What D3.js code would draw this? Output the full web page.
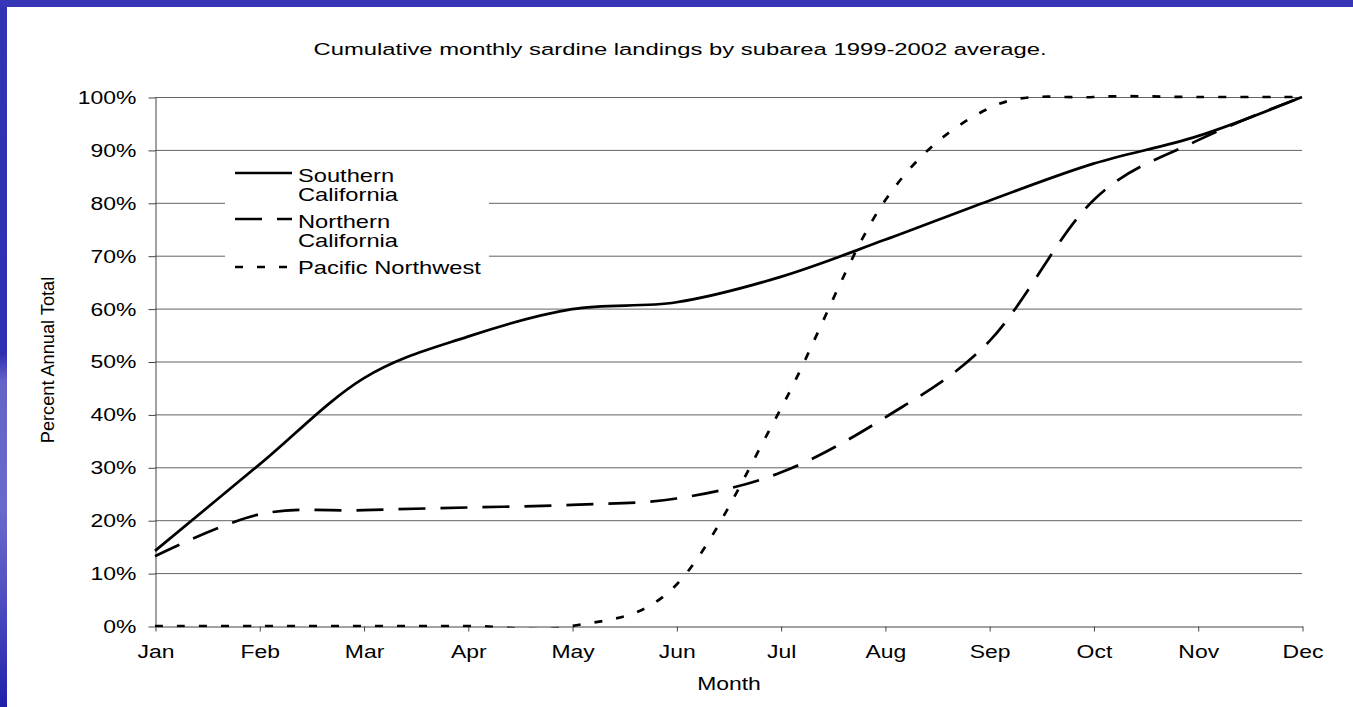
<!DOCTYPE html>
<html>
<head>
<meta charset="utf-8">
<script src="https://cdn.jsdelivr.net/npm/d3@7"></script>
<style>
  html, body { margin: 0; padding: 0; background: #fff; }
  svg { display: block; }
  text { font-family: "Liberation Sans", Arial, sans-serif; fill: #000; }
</style>
</head>
<body>
<svg id="chart" width="1353" height="707"></svg>
<script>
// Month categories
const months = ["Jan", "Feb", "Mar", "Apr", "May", "Jun", "Jul", "Aug", "Sep", "Oct", "Nov", "Dec"];

// Cumulative percent of annual landings, 1999-2002 average
const southernCalifornia = [14.2, 30.5, 46.8, 54.7, 59.9, 61.2, 66.0, 73.0, 80.4, 87.4, 92.6, 100];
const northernCalifornia = [13.2, 21.1, 21.9, 22.4, 22.9, 24.1, 29.0, 39.4, 53.8, 80.5, 91.8, 100];
const pacificNorthwest   = [0, 0, 0, 0, 0, 7.8, 41.0, 80.4, 97.9, 100, 100, 100];

const seriesNames = ["Southern California", "Northern California", "Pacific Northwest"];
const yTicks = [0, 10, 20, 30, 40, 50, 60, 70, 80, 90, 100];

const titleText = "Cumulative monthly sardine landings by subarea 1999-2002 average.";
const xTitle = "Month";
const yTitle = "Percent Annual Total";

const W = 1353, H = 707;
const SX = 1.24;          // horizontal text stretch of the slide
const FS = 18.5;          // base font size

const svg = d3.select("#chart");

// Slide frame: blue bands on top and left
const defs = svg.append("defs");
const grad = defs.append("linearGradient").attr("id", "leftBand")
  .attr("x1", 0).attr("y1", 0).attr("x2", 0).attr("y2", 1);
[[0, "#3232b4"], [0.5, "#2e2eb2"], [0.54, "#6464c8"], [0.72, "#6a6acc"], [0.86, "#4b4bbf"], [1, "#1f1fab"]]
  .forEach(([o, c]) => grad.append("stop").attr("offset", o).attr("stop-color", c));

svg.append("rect").attr("x", 0).attr("y", 0).attr("width", W).attr("height", H).attr("fill", "#fff");
svg.append("rect").attr("x", 0).attr("y", 0).attr("width", 7).attr("height", H).attr("fill", "url(#leftBand)");
svg.append("rect").attr("x", 0).attr("y", 0).attr("width", W).attr("height", 7).attr("fill", "#3636b6");

// Scales
const x = d3.scalePoint().domain(months).range([155, 1302]);
const y = d3.scaleLinear().domain([0, 100]).range([626, 97]);

// Plot clip, so the smoothed curves never dip under the 0% line
defs.append("clipPath").attr("id", "plotClip").append("rect")
  .attr("x", 0).attr("y", 0).attr("width", W).attr("height", 627.6);

// Gridlines
svg.append("g").selectAll("line").data(yTicks.filter(d => d > 0)).join("line")
  .attr("x1", x.range()[0]).attr("x2", x.range()[1])
  .attr("y1", d => y(d) + 0.5).attr("y2", d => y(d) + 0.5)
  .attr("stroke", "#636363").attr("stroke-width", 1);

// Axes
const yAxis = svg.append("g").attr("transform", "translate(155.5,0.5)")
  .call(d3.axisLeft(y).tickValues(yTicks).tickFormat(d => d + "%").tickSize(7).tickSizeOuter(0).tickPadding(12));
const xAxis = svg.append("g").attr("transform", "translate(0.5,626.5)")
  .call(d3.axisBottom(x).tickSize(5).tickSizeOuter(0).tickPadding(13));

[yAxis, xAxis].forEach(a => {
  a.select(".domain").attr("stroke", "#444").attr("stroke-width", 1);
  a.selectAll(".tick line").attr("stroke", "#444").attr("stroke-width", 1);
  a.selectAll(".tick text").attr("font-size", FS).attr("font-family", "Liberation Sans, Arial, sans-serif").attr("fill", "#000");
});
// stretch tick labels horizontally, keeping their anchors in place
yAxis.selectAll(".tick text").attr("x", -19 / SX).attr("transform", `scale(${SX},1)`);
xAxis.selectAll(".tick text").attr("transform", `scale(${SX},1)`);

// Helper for stretched text
function stretchedText(px, py, str, anchor, size, sx) {
  const g = svg.append("g").attr("transform", `translate(${px},${py}) scale(${sx || SX},1)`);
  return g.append("text").attr("text-anchor", anchor).attr("font-size", size).text(str);
}

// Title: fitted to its full width
const title = svg.append("text").attr("x", 680).attr("y", 55)
  .attr("text-anchor", "middle").attr("font-size", 17.2).text(titleText);
title.attr("textLength", 733).attr("lengthAdjust", "spacingAndGlyphs");

stretchedText(729, 690, xTitle, "middle", FS);
svg.append("text").attr("transform", "translate(54,360) rotate(-90)")
  .attr("text-anchor", "middle").attr("font-size", 18.2).text(yTitle);

// Series
const series = [
  { name: seriesNames[0], values: southernCalifornia, dash: null },
  { name: seriesNames[1], values: northernCalifornia, dash: "27,15" },
  { name: seriesNames[2], values: pacificNorthwest, dash: "8,14" }
];

const line = d3.line()
  .x((d, i) => x(months[i]))
  .y(d => y(d))
  .curve(d3.curveCatmullRom.alpha(0));

svg.append("g").attr("clip-path", "url(#plotClip)")
  .selectAll("path").data(series).join("path")
  .attr("d", d => line(d.values))
  .attr("fill", "none")
  .attr("stroke", "#000")
  .attr("stroke-width", 2.7)
  .attr("stroke-dasharray", d => d.dash);

// Legend
const legend = svg.append("g");
legend.append("rect").attr("x", 225).attr("y", 157).attr("width", 264).attr("height", 126).attr("fill", "#fff");
const legendRows = [
  { s: series[0], lineY: 173, lines: ["Southern", "California"], baseY: 182 },
  { s: series[1], lineY: 219, lines: ["Northern", "California"], baseY: 228 },
  { s: series[2], lineY: 267, lines: ["Pacific Northwest"], baseY: 274 }
];
legendRows.forEach(r => {
  legend.append("line").attr("x1", 235).attr("x2", 292).attr("y1", r.lineY).attr("y2", r.lineY)
    .attr("stroke", "#000").attr("stroke-width", 2.7).attr("stroke-dasharray", r.s.dash);
  r.lines.forEach((t, k) => {
    const g = legend.append("g").attr("transform", `translate(298,${r.baseY + k * 19}) scale(1.28,1)`);
    g.append("text").attr("font-size", FS).text(t);
  });
});
</script>
</body>
</html>
